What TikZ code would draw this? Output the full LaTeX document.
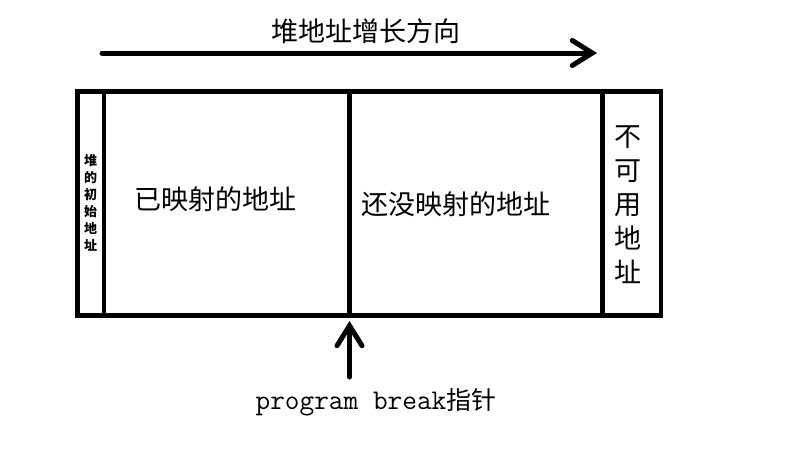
\documentclass[tikz,border=0pt]{standalone}
\usepackage{fontspec}
\usepackage{tikz}
\usetikzlibrary{arrows.meta,positioning}
\newfontfamily\cjk{Noto Sans CJK SC}
\tikzstyle{arrow} = [line width=5pt,line cap=round,-{Straight Barb[length=20pt,width=25pt,line cap=round]}]
\tikzstyle{frame} = [line width=4.5pt]
\tikzstyle{bigtext} = [inner sep=0pt,align=center,font=\cjk\fontsize{27}{34}\selectfont]
\tikzstyle{tinytext} = [inner sep=0pt,align=center,font=\cjk\bfseries\fontsize{13}{17}\selectfont]

\begin{document}
\begin{tikzpicture}[x=1pt,y=-1pt]
\useasboundingbox (0,0) rectangle (788,458);

% growth direction of the heap
\node [bigtext] (growth) at (366,31) {堆地址增长方向};
\coordinate (growthstart) at (102,53);
\coordinate (growthend) at (597,53);
\draw [arrow] (growthstart) -- (growthend);

% the heap cells
\draw [frame] (77.5,91.7) rectangle (661,315.5);
\draw [frame] (104,91.7) -- (104,315.5);
\draw [frame] (349.5,91.7) -- (349.5,315.5);
\draw [frame] (602.5,91.7) -- (602.5,315.5);

\node [tinytext] (heapstart) at (90.5,202.5) {堆\\的\\初\\始\\地\\址};
\node [bigtext] (mapped) at (215.5,199) {已映射的地址};
\node [bigtext] (unmapped) at (456,204) {还没映射的地址};
\node [bigtext] (unusable) at (628,205) {不\\可\\用\\地\\址};

% program break pointer
\node [inner sep=0pt] (brk) at (376,402) {\ttfamily\fontsize{28.5}{30}\selectfont program break{\cjk\fontsize{25}{30}\selectfont 指针}};
\coordinate (brkfrom) at (349.5,377);
\coordinate (brkto) at (349.5,321);
\draw [arrow] (brkfrom) -- (brkto);
\end{tikzpicture}
\end{document}
